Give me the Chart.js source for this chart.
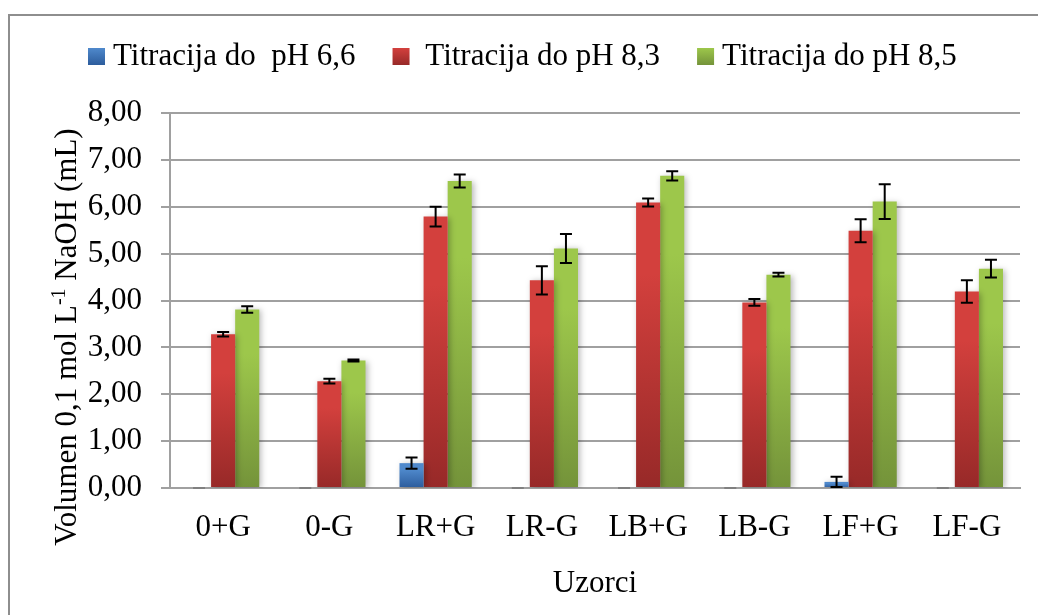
<!DOCTYPE html>
<html><head><meta charset="utf-8">
<script src="https://cdn.jsdelivr.net/npm/chart.js@4.4.1/dist/chart.umd.min.js"></script>
<style>
html,body{margin:0;padding:0;background:#fff;overflow:hidden;}
#wrap{position:relative;width:1038px;height:615px;}
#frame{position:absolute;left:8px;top:14px;width:1100px;height:700px;border:2px solid #8e8e8e;box-sizing:border-box;}
canvas{position:absolute;left:0;top:0;}
</style></head><body>
<div id="wrap"><div id="frame"></div><canvas id="c" width="1038" height="615"></canvas></div>
<script>
// ---- data ----
const categories = ['0+G', '0-G', 'LR+G', 'LR-G', 'LB+G', 'LB-G', 'LF+G', 'LF-G'];
const seriesLabels = ['Titracija do  pH 6,6', ' Titracija do pH 8,3', 'Titracija do pH 8,5'];
const ph66 = [0, 0, 0.53, 0, 0, 0, 0.13, 0];
const ph66Err = [0, 0, 0.12, 0, 0, 0, 0.11, 0];
const ph83 = [3.28, 2.28, 5.79, 4.43, 6.09, 3.96, 5.49, 4.19];
const ph83Err = [0.05, 0.05, 0.21, 0.30, 0.085, 0.07, 0.245, 0.24];
const ph85 = [3.81, 2.72, 6.55, 5.11, 6.66, 4.55, 6.11, 4.68];
const ph85Err = [0.07, 0.02, 0.14, 0.31, 0.10, 0.04, 0.37, 0.19];
const yTicks = [0, 1, 2, 3, 4, 5, 6, 7, 8];
const xTitle = 'Uzorci';
// y title pieces: normal text, superscript, normal text
const yTitleParts = ['Volumen 0,1 mol L', '-1', ' NaOH (mL)'];

// ---- styles ----
const FAMILY = "'Liberation Serif', 'Times New Roman', serif";
const topCols = ['#4f89cc', '#d3403d', '#9dc74b'];
const botCols = ['#2c5c9c', '#972928', '#74933a'];

function barGrad(i) {
  return (c) => {
    const chart = c.chart;
    const area = chart.chartArea;
    if (!area || c.type !== 'data') return botCols[i];
    const ys = chart.scales.y;
    const y0 = ys.getPixelForValue(0), y1 = ys.getPixelForValue(c.raw);
    if (Math.abs(y0 - y1) < 1) return botCols[i];
    const g = chart.ctx.createLinearGradient(0, y1, 0, y0);
    g.addColorStop(0, topCols[i]);
    g.addColorStop(0.25, topCols[i]);
    g.addColorStop(1, botCols[i]);
    return g;
  };
}

const errs = [ph66Err, ph83Err, ph85Err];

const shadowPlugin = {
  id: 'barShadow',
  beforeDatasetsDraw(chart) {
    const c = chart.ctx; c.save();
    c.shadowColor = 'rgba(0,0,0,0.28)'; c.shadowBlur = 6; c.shadowOffsetX = 2; c.shadowOffsetY = 1;
  },
  afterDatasetsDraw(chart) { chart.ctx.restore(); }
};

const errorBarPlugin = {
  id: 'errorBars',
  afterDatasetsDraw(chart) {
    const ctx = chart.ctx, ys = chart.scales.y;
    ctx.save();
    ctx.lineWidth = 2;
    chart.data.datasets.forEach((ds, di) => {
      const meta = chart.getDatasetMeta(di);
      meta.data.forEach((bar, i) => {
        const v = ds.data[i], e = errs[di][i];
        const yT = ys.getPixelForValue(v + e), yB = ys.getPixelForValue(v - e);
        const x = bar.x, hw = 6;
        ctx.strokeStyle = (e === 0 && v === 0) ? '#808080' : '#000';
        ctx.beginPath();
        if (e > 0) { ctx.moveTo(x, yT); ctx.lineTo(x, yB); }
        ctx.moveTo(x - hw, yT); ctx.lineTo(x + hw, yT);
        ctx.moveTo(x - hw, yB); ctx.lineTo(x + hw, yB);
        ctx.stroke();
      });
    });
    ctx.restore();
  }
};

const legendPlugin = {
  id: 'customLegend',
  afterDraw(chart) {
    const ctx = chart.ctx;
    ctx.save();
    ctx.font = '31px ' + FAMILY;
    ctx.textBaseline = 'alphabetic';
    let x = 88; const boxTop = 48, box = 17, base = 65;
    chart.data.datasets.forEach((ds, i) => {
      const g = ctx.createLinearGradient(0, boxTop, 0, boxTop + box);
      g.addColorStop(0, topCols[i]); g.addColorStop(1, botCols[i]);
      ctx.fillStyle = g; ctx.fillRect(x, boxTop, box, box);
      ctx.fillStyle = '#000';
      ctx.fillText(ds.label, x + box + 8, base);
      x += box + 8 + ctx.measureText(ds.label).width + 37;
    });
    ctx.restore();
  }
};

const yTitlePlugin = {
  id: 'yTitle',
  afterDraw(chart) {
    const ctx = chart.ctx;
    ctx.save();
    const main = '31px ' + FAMILY, sup = '20px ' + FAMILY;
    ctx.font = main; const w0 = ctx.measureText(yTitleParts[0]).width, w2 = ctx.measureText(yTitleParts[2]).width;
    ctx.font = sup; const w1 = ctx.measureText(yTitleParts[1]).width;
    const total = w0 + w1 + w2;
    ctx.translate(76, 337);
    ctx.rotate(-Math.PI / 2);
    ctx.fillStyle = '#000';
    ctx.textBaseline = 'alphabetic';
    let x = -total / 2;
    ctx.font = main; ctx.fillText(yTitleParts[0], x, 0); x += w0;
    ctx.font = sup; ctx.fillText(yTitleParts[1], x, -11); x += w1;
    ctx.font = main; ctx.fillText(yTitleParts[2], x, 0);
    ctx.restore();
  }
};

const font = { family: FAMILY, size: 31 };

new Chart(document.getElementById('c'), {
  type: 'bar',
  data: {
    labels: categories,
    datasets: [
      { label: seriesLabels[0], data: ph66, backgroundColor: barGrad(0) },
      { label: seriesLabels[1], data: ph83, backgroundColor: barGrad(1) },
      { label: seriesLabels[2], data: ph85, backgroundColor: barGrad(2) }
    ]
  },
  options: {
    responsive: false,
    animation: false,
    devicePixelRatio: 1,
    layout: { padding: { top: 113, left: 20, right: 18, bottom: 0 } },
    datasets: { bar: { categoryPercentage: 0.68, barPercentage: 1, borderWidth: 0 } },
    plugins: { legend: { display: false }, tooltip: { enabled: false } },
    scales: {
      x: {
        grid: { display: false, drawTicks: false },
        border: { display: true, color: '#a0a0a0', width: 2 },
        ticks: { color: '#000', font: font, padding: 21, maxRotation: 0, autoSkip: false },
        title: { display: true, text: xTitle, color: '#000', font: font, padding: { top: 13, bottom: 13 } },
        afterFit(s) { s.height = 127; }
      },
      y: {
        min: 0, max: 8,
        afterBuildTicks(s) { s.ticks = yTicks.map(v => ({ value: v })); },
        ticks: { color: '#000', font: font, padding: 19, callback: v => v.toFixed(2).replace('.', ',') },
        grid: { color: '#a0a0a0', lineWidth: 2, tickLength: 9, drawTicks: true },
        border: { color: '#a0a0a0', width: 2 },
        title: { display: false },
        afterFit(s) { s.width = 150; }
      }
    }
  },
  plugins: [shadowPlugin, errorBarPlugin, legendPlugin, yTitlePlugin]
});
</script>
</body></html>
